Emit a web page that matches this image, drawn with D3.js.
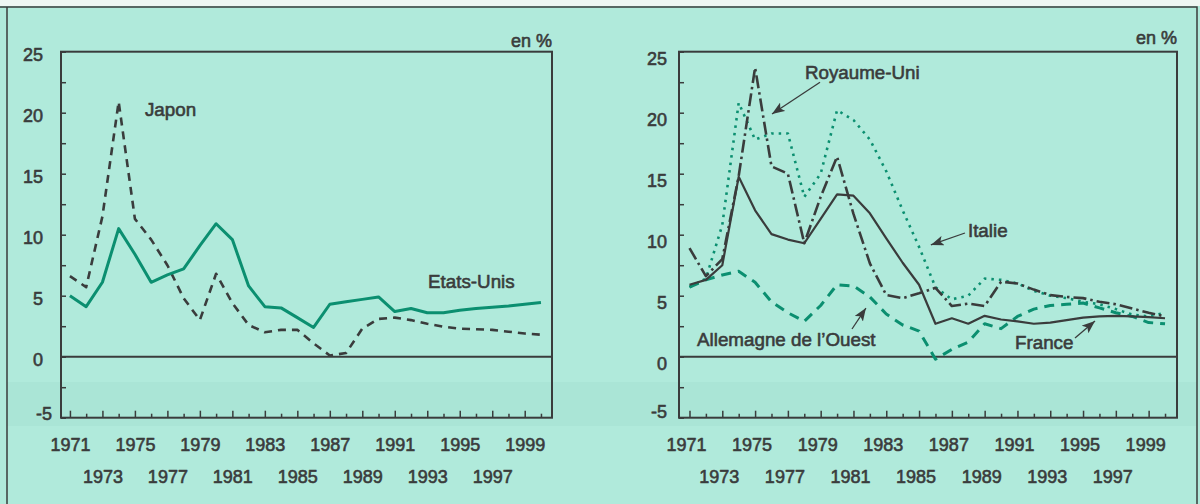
<!DOCTYPE html>
<html><head><meta charset="utf-8">
<script src="https://cdn.jsdelivr.net/npm/d3@7"></script>
<style>
html,body{margin:0;padding:0;background:#b0eadb;}
svg{display:block;}
</style></head><body>
<svg id="c" width="1200" height="504"></svg>
<script>
// ---------- DATA ----------
const years = [1971,1972,1973,1974,1975,1976,1977,1978,1979,1980,1981,1982,1983,1984,1985,
               1986,1987,1988,1989,1990,1991,1992,1993,1994,1995,1996,1997,1998,1999,2000];
const etatsUnis = [5.0,4.1,6.1,10.5,8.4,6.1,6.7,7.2,9.1,10.9,9.6,5.8,4.1,4.0,3.2,
                   2.4,4.3,4.5,4.7,4.9,3.7,3.95,3.6,3.6,3.8,3.95,4.05,4.15,4.3,4.45];
const japon = [6.6,5.7,11.5,20.9,11.3,9.6,7.5,4.8,3.0,6.8,4.4,2.6,2.0,2.2,2.2,
               1.1,0.1,0.3,2.3,3.1,3.2,3.0,2.7,2.45,2.3,2.25,2.2,2.05,1.9,1.8];
const france = [5.9,6.3,7.5,14.75,12.0,10.05,9.6,9.3,11.3,13.3,13.2,11.75,9.7,7.7,5.9,
                2.7,3.15,2.7,3.35,3.05,2.9,2.7,2.8,3.0,3.2,3.3,3.35,3.3,3.25,3.15];
const italie = [5.7,6.4,10.8,20.8,17.8,18.3,18.3,13.1,15.0,20.2,19.4,17.8,15.2,12.0,9.0,
                5.7,4.7,5.0,6.4,6.3,6.0,5.4,5.0,4.8,4.5,4.3,3.9,3.45,3.3,3.6];
const royaumeUni = [8.9,6.6,8.0,14.8,23.7,15.6,15.0,9.3,13.1,16.4,11.7,7.65,5.05,4.8,5.2,
                    5.65,4.15,4.35,4.15,6.15,6.0,5.5,5.05,4.9,4.8,4.5,4.3,3.95,3.6,3.3];
const allemagne = [5.7,6.3,6.7,7.0,6.1,4.5,3.6,2.9,4.2,5.9,5.8,4.9,3.5,2.6,2.1,
                   -0.2,0.6,1.2,2.7,2.3,3.3,3.9,4.2,4.3,4.4,4.0,3.6,3.3,2.8,2.7];
const yTickMarks = [-5,-2.5,0,2.5,5,7.5,10,12.5,15,17.5,20,22.5,25];
const yTickLabels = [-5,0,5,10,15,20,25];
const xLabelsRow1 = [1971,1975,1979,1983,1987,1991,1995,1999];
const xLabelsRow2 = [1973,1977,1981,1985,1989,1993,1997];
const unitLabel = "en %";

// ---------- STYLE ----------
const INK = "#3a3c3c", GREEN = "#0b8f70", BG = "#b0eadb";
const FONT = "'Liberation Sans', Arial, Helvetica, sans-serif";
const svg = d3.select("#c");

svg.append("rect").attr("width",1200).attr("height",504).attr("fill",BG);
svg.append("rect").attr("width",1200).attr("height",6).attr("fill","#eef6f3");
svg.append("rect").attr("x",7).attr("y",382).attr("width",1190).attr("height",44)
   .attr("fill","#0a5a48").attr("opacity",0.03);
svg.append("path").attr("d","M0,7H1197V504M7,7V504").attr("fill","none")
   .attr("stroke",INK).attr("stroke-width",1.5);

const defs = svg.append("defs");
defs.append("marker").attr("id","arr").attr("markerUnits","userSpaceOnUse")
  .attr("markerWidth",14).attr("markerHeight",10).attr("refX",13).attr("refY",5)
  .attr("orient","auto")
  .append("path").attr("d","M0,0L13,5L0,10L3,5Z").attr("fill",INK);

function styleText(sel, size){
  sel.attr("font-family",FONT).attr("font-size",size||18).attr("fill",INK)
     .attr("stroke",INK).attr("stroke-width",0.6).attr("stroke-linejoin","round");
}
const fmt = d => String(d);

function panel(cfg){
  const x = d3.scaleLinear().domain(cfg.domain).range([cfg.x0,cfg.x1]);
  const y = d3.scaleLinear().domain([-5,25]).range([417.7,51.7]);
  const g = svg.append("g");

  // y tick marks (inward)
  const ya = g.append("g").attr("transform",`translate(${cfg.x0},0)`)
    .call(d3.axisRight(y).tickValues(yTickMarks).tickSize(5).tickFormat(""));
  ya.select(".domain").remove();
  ya.selectAll("line").attr("stroke",INK).attr("stroke-width",1.5);

  // y labels
  const yl = g.append("g").attr("transform",`translate(${cfg.x0},0)`)
    .call(d3.axisLeft(y).tickValues(yTickLabels).tickSize(0).tickPadding(cfg.yPad).tickFormat(fmt));
  yl.select(".domain").remove();
  yl.attr("font-size",null).attr("font-family",null);
  yl.selectAll("text").call(styleText)
    .attr("dy", d => d < 0 ? cfg.negDy : cfg.labDy)
    .attr("x", d => d < 0 ? -cfg.negPad : -cfg.yPad);

  // x ticks: odd years tall, even years short
  const base = y(-5);
  const oddY = years.filter(v => v % 2 === 1), evenY = years.filter(v => v % 2 === 0);
  [[oddY,7],[evenY,4]].forEach(([vals,len]) => {
    const xa = g.append("g").attr("transform",`translate(0,${base})`)
      .call(d3.axisTop(x).tickValues(vals).tickSize(len).tickFormat(""));
    xa.select(".domain").remove();
    xa.selectAll("line").attr("stroke",INK).attr("stroke-width",1.5);
  });

  // x labels, two rows
  [[xLabelsRow1,21],[xLabelsRow2,53]].forEach(([vals,pad]) => {
    const xl = g.append("g").attr("transform",`translate(${cfg.xLabShift},${base})`)
      .call(d3.axisBottom(x).tickValues(vals).tickSize(0).tickPadding(pad).tickFormat(fmt));
    xl.select(".domain").remove();
    xl.attr("font-size",null).attr("font-family",null);
    xl.selectAll("text").call(styleText);
  });

  // zero line
  g.append("line").attr("x1",cfg.x0).attr("x2",cfg.x1).attr("y1",y(0)).attr("y2",y(0))
    .attr("stroke",INK).attr("stroke-width",2);

  // series
  const line = d3.line().x((d,i)=>x(years[i])).y(d=>y(d));
  cfg.series.forEach(s => {
    g.append("path").datum(s.values).attr("d",line).attr("fill","none")
      .attr("stroke",s.color).attr("stroke-width",s.width)
      .attr("stroke-dasharray",s.dash||null)
      .attr("stroke-linejoin","round").attr("stroke-linecap",s.cap||"butt");
  });

  // box
  g.append("rect").attr("x",cfg.x0).attr("y",y(25)).attr("width",cfg.x1-cfg.x0)
    .attr("height",y(-5)-y(25)).attr("fill","none").attr("stroke",INK).attr("stroke-width",2);

  // unit label
  g.append("text").attr("x",cfg.x1).attr("y",cfg.unitY).attr("text-anchor","end")
    .text(unitLabel).call(styleText);

  // annotations
  cfg.notes.forEach(n => {
    g.append("text").attr("x",x(n.tx)).attr("y",y(n.ty)).text(n.text).call(styleText, 18.8);
    if (n.from) {
      g.append("line").attr("x1",x(n.from[0])).attr("y1",y(n.from[1]))
        .attr("x2",x(n.to[0])).attr("y2",y(n.to[1]))
        .attr("stroke",INK).attr("stroke-width",1.3).attr("marker-end","url(#arr)");
    }
  });
}

panel({
  x0:61, x1:552, domain:[1970.45,2000.68], yPad:18, negPad:9, labDy:9, negDy:2,
  xLabShift:0, unitY:46.5,
  series:[
    {values:japon, color:INK, width:2.6, dash:"8,6"},
    {values:etatsUnis, color:GREEN, width:3}
  ],
  notes:[
    {text:"Japon", tx:1975.62, ty:19.69},
    {text:"Etats-Unis", tx:1993.05, ty:5.63}
  ]
});

panel({
  x0:679, x1:1177, domain:[1970.36,2000.73], yPad:12, negPad:12, labDy:12.3, negDy:-0.5,
  xLabShift:-3.5, unitY:43.5,
  series:[
    {values:allemagne, color:GREEN, width:3, dash:"10,7"},
    {values:italie, color:GREEN, width:2.6, dash:"2.5,5"},
    {values:royaumeUni, color:INK, width:2.6, dash:"13,4,2.5,4"},
    {values:france, color:INK, width:2.2}
  ],
  notes:[
    {text:"Royaume-Uni", tx:1978.04, ty:22.8, from:[1978.96,22.5], to:[1976.03,19.9]},
    {text:"Italie", tx:1987.98, ty:9.85, from:[1987.8,10.14], to:[1985.72,9.16]},
    {text:"France", tx:1990.85, ty:0.63, from:[1994.51,1.53], to:[1995.73,2.93]},
    {text:"Allemagne de l\u2019Ouest", tx:1971.46, ty:0.84, from:[1980.91,2.27], to:[1981.76,3.99]}
  ]
});
</script>
</body></html>
